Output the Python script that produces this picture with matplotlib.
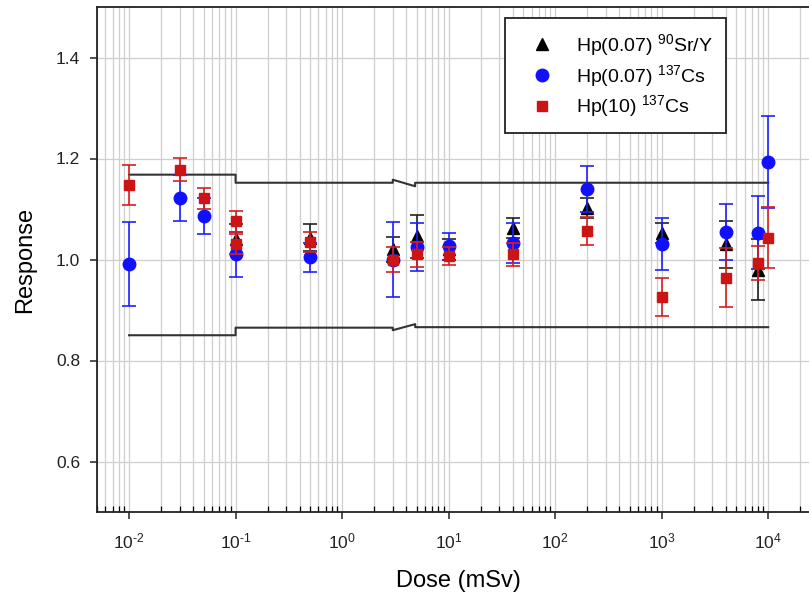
import matplotlib
matplotlib.use("Agg")
import matplotlib.pyplot as plt
from matplotlib.ticker import FixedLocator, LogLocator, NullFormatter, FuncFormatter
import numpy as np

plt.rcParams['font.family'] = ['Liberation Sans', 'DejaVu Sans']
plt.rcParams['mathtext.fontset'] = 'custom'
plt.rcParams['mathtext.rm'] = 'Liberation Sans'
plt.rcParams['mathtext.it'] = 'Liberation Sans:italic'
plt.rcParams['mathtext.bf'] = 'Liberation Sans:bold'
plt.rcParams['mathtext.default'] = 'rm'
plt.rcParams['axes.unicode_minus'] = False

# Hp(0.07) with 90Sr/Y source
sr_dose = [0.1, 0.5, 3, 5, 10, 40, 200, 1000, 4000, 8000]
sr_resp = [1.040, 1.043, 1.020, 1.046, 1.020, 1.063, 1.102, 1.053, 1.030, 0.980]
sr_err = [0.030, 0.027, 0.025, 0.043, 0.020, 0.020, 0.020, 0.020, 0.046, 0.060]

# Hp(0.07) with 137Cs source
cs07_dose = [0.01, 0.03, 0.05, 0.1, 0.5, 3, 5, 10, 40, 200, 1000, 4000, 8000, 10000]
cs07_resp = [0.991, 1.122, 1.086, 1.010, 1.004, 1.000, 1.025, 1.026, 1.033, 1.140,
             1.031, 1.054, 1.053, 1.193]
cs07_err = [0.084, 0.045, 0.036, 0.045, 0.028, 0.074, 0.048, 0.027, 0.040, 0.046,
            0.052, 0.055, 0.072, 0.092]

# Hp(10) with 137Cs source
cs10_dose = [0.01, 0.03, 0.05, 0.1, 0.1, 0.5, 3, 5, 10, 40, 200, 1000, 4000, 8000, 10000]
cs10_resp = [1.147, 1.178, 1.121, 1.076, 1.030, 1.035, 1.000, 1.010, 1.007, 1.010,
             1.056, 0.926, 0.964, 0.993, 1.043]
cs10_err = [0.040, 0.023, 0.021, 0.021, 0.020, 0.020, 0.025, 0.025, 0.018, 0.023,
            0.028, 0.038, 0.058, 0.034, 0.060]

# Acceptance limits (step lines with an axis-break notch between 3 and 5 mSv)
upper_x = [0.01, 0.1, 0.1, 2.99, 2.99, 4.85, 4.85, 10000]
upper_y = [1.168, 1.168, 1.152, 1.152, 1.158, 1.145, 1.152, 1.152]
lower_x = [0.01, 0.1, 0.1, 2.99, 2.99, 4.85, 4.85, 10000]
lower_y = [0.850, 0.850, 0.865, 0.865, 0.860, 0.872, 0.866, 0.866]

x_major = [1e-2, 1e-1, 1e0, 1e1, 1e2, 1e3, 1e4]
y_ticks = [0.6, 0.8, 1.0, 1.2, 1.4]


def decade_label(v, pos):
    e = int(round(np.log10(v)))
    if e < 0:
        return r'$10^{\text{-%d}}$' % (-e)
    return r'$10^{%d}$' % e


W, H = 809, 599
fig = plt.figure(figsize=(W / 100, H / 100), dpi=100)
ax = fig.add_axes([97 / W, 1 - 512 / H, 722 / W, 505 / H])

ax.set_xscale('log')
ax.set_xlim(5e-3, 3e4)
ax.set_ylim(0.5, 1.5)

grid_kw = dict(color='#cfcfcf', linewidth=0.9)
ax.xaxis.set_major_locator(FixedLocator(x_major))
ax.xaxis.set_minor_locator(LogLocator(base=10, subs=np.arange(2, 10), numticks=20))
ax.xaxis.set_minor_formatter(NullFormatter())
ax.xaxis.set_major_formatter(FuncFormatter(decade_label))
ax.yaxis.set_major_locator(FixedLocator(y_ticks))
ax.yaxis.set_major_formatter(FuncFormatter(lambda v, p: f"{v:.1f}"))
ax.grid(True, which='major', axis='both', **grid_kw)
ax.grid(True, which='minor', axis='x', **grid_kw)
ax.set_axisbelow(True)

line_col = '#333333'
ax.plot(upper_x, upper_y, color=line_col, linewidth=1.5, zorder=2)
ax.plot(lower_x, lower_y, color=line_col, linewidth=1.5, zorder=2)

eb_kw = dict(capsize=5, elinewidth=1.2, capthick=1.2, linestyle='none')
ax.errorbar(sr_dose, sr_resp, yerr=sr_err, marker='^', markersize=9,
            color='black', ecolor='#222222', zorder=3, label=r'Hp(0.07) $^{90}$Sr/Y', **eb_kw)
ax.errorbar(cs07_dose, cs07_resp, yerr=cs07_err, marker='o', markersize=9,
            color='#1010ff', ecolor='#2020ff', zorder=4, label=r'Hp(0.07) $^{137}$Cs', **eb_kw)
ax.errorbar(cs10_dose, cs10_resp, yerr=cs10_err, marker='s', markersize=7.7,
            color='#cc1414', ecolor='#d42020', zorder=5, label=r'Hp(10) $^{137}$Cs', **eb_kw)

for s in ax.spines.values():
    s.set_linewidth(1.3)
    s.set_color('#222222')

ax.tick_params(axis='both', which='major', labelsize=12.5, direction='out', length=5,
               width=1.1, colors='#222222')
ax.tick_params(axis='y', which='major', pad=7)
ax.tick_params(axis='x', which='minor', direction='in', length=4, width=0.9)
ax.tick_params(axis='x', which='major', pad=9)

ax.set_xlabel('Dose (mSv)', fontsize=17)
ax.set_ylabel('Response', fontsize=17)
ax.xaxis.set_label_coords(0.5, -0.115)
ax.yaxis.set_label_coords(-0.085, 0.5)

handles, labels = ax.get_legend_handles_labels()
handles = [h[0] for h in handles]
leg = ax.legend(handles, labels, loc='upper left', bbox_to_anchor=(505 / W, 1 - 18 / H),
                bbox_transform=fig.transFigure, fontsize=14, frameon=True, fancybox=False,
                edgecolor='#222222', framealpha=1, borderpad=0.72, handlelength=2.35,
                handletextpad=0.57, labelspacing=0.25, borderaxespad=0)
leg.get_frame().set_linewidth(1.3)

fig.savefig('out.png', dpi=100)
